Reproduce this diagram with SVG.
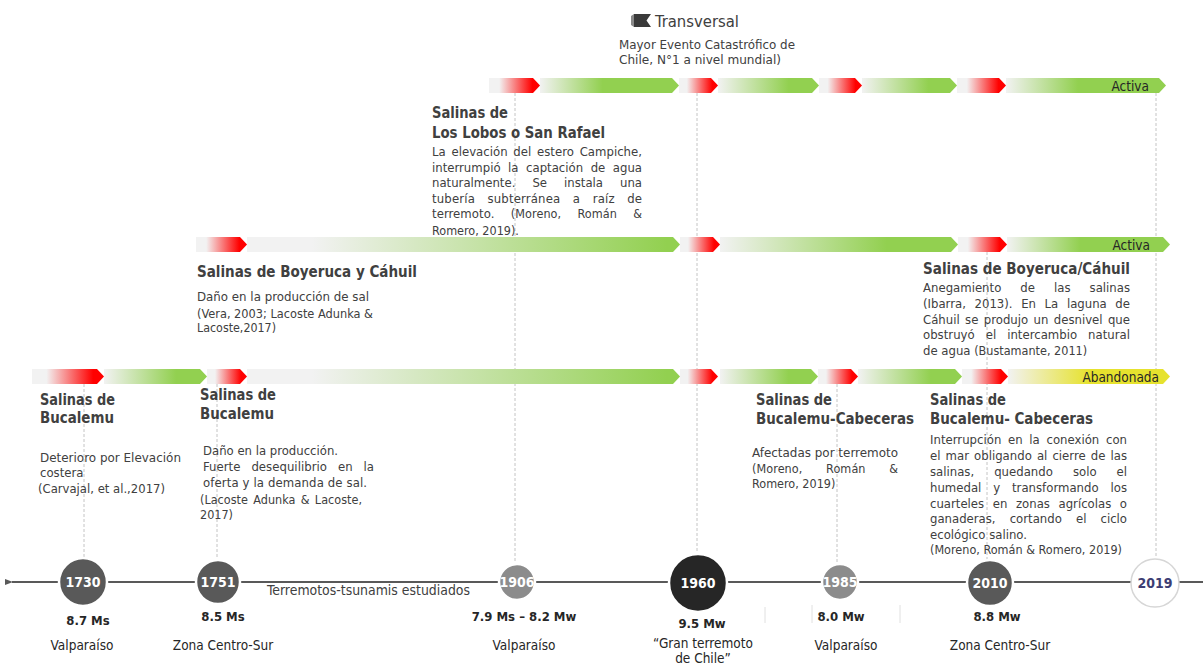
<svg xmlns="http://www.w3.org/2000/svg" width="1203" height="664" viewBox="0 0 1203 664">
<style>
text{font-family:"DejaVu Sans Condensed","DejaVu Sans",sans-serif;fill:#404040}
.h{font-weight:bold;font-size:15px}
.p{font-size:13px}
.s{font-size:12.5px}
.yr{font-weight:bold;font-size:14px;fill:#fff;text-anchor:middle}
.mag{font-weight:bold;font-size:13px;text-anchor:middle;fill:#262626}
.loc{font-size:13.5px;text-anchor:middle;fill:#262626}
.st{font-size:13.5px;fill:#262626;text-anchor:end}
.dash{stroke:#c4c4c4;stroke-dasharray:3 2;stroke-width:1;fill:none}
.tick{stroke:#e0e0e0;stroke-width:1}
.r{fill:url(#gRed)}
.gs{fill:url(#gGreenS)}
.gm{fill:url(#gGreenM)}
.gl{fill:url(#gGreenL)}
.y{fill:url(#gYellow)}
.c{stroke:#fff;stroke-width:2.5}
</style>
<defs>
<linearGradient id="gRed"><stop offset="0" stop-color="#f2f2f2"/><stop offset="0.2" stop-color="#f2f2f2"/><stop offset="0.85" stop-color="#ff0000"/><stop offset="1" stop-color="#ff0000"/></linearGradient>
<linearGradient id="gGreenS"><stop offset="0" stop-color="#f2f2f2"/><stop offset="0.45" stop-color="#92d050"/><stop offset="1" stop-color="#92d050"/></linearGradient>
<linearGradient id="gGreenM"><stop offset="0" stop-color="#f2f2f2"/><stop offset="0.7" stop-color="#92d050"/><stop offset="1" stop-color="#92d050"/></linearGradient>
<linearGradient id="gGreenL"><stop offset="0" stop-color="#f2f2f2"/><stop offset="0.15" stop-color="#f2f2f2"/><stop offset="0.97" stop-color="#92d050"/><stop offset="1" stop-color="#92d050"/></linearGradient>
<linearGradient id="gYellow"><stop offset="0" stop-color="#f2f2f2"/><stop offset="0.5" stop-color="#e6e22e"/><stop offset="1" stop-color="#e6e22e"/></linearGradient>
<marker id="arr" markerWidth="8" markerHeight="8" refX="1" refY="4" orient="auto" markerUnits="userSpaceOnUse"><path d="M8,1 L0,4 L8,7 Z" fill="#595959"/></marker>
</defs>

<g id="connectors">
<line class="dash" x1="84" y1="384" x2="84" y2="558"/>
<line class="dash" x1="217" y1="384" x2="217" y2="560"/>
<line class="dash" x1="515" y1="93" x2="515" y2="564"/>
<line class="dash" x1="697" y1="93" x2="697" y2="554"/>
<line class="dash" x1="837" y1="384" x2="837" y2="564"/>
<line class="dash" x1="987" y1="252" x2="987" y2="560"/>
<line class="dash" x1="1156" y1="93" x2="1156" y2="558"/>
<line x1="1203" y1="582" x2="12" y2="582" stroke="#595959" stroke-width="2" marker-end="url(#arr)"/>
<line class="tick" x1="765" y1="607" x2="765" y2="623"/>
<line class="tick" x1="812" y1="605" x2="812" y2="623"/>
<line class="tick" x1="900" y1="605" x2="900" y2="623"/>
</g>

<g id="transversal">
<polygon points="634,14 651,14 646.5,20.5 651,27 634,27" fill="#3a3a3a"/>
<polygon points="631,16 634,14 634,27 631,25" fill="#8a8a8a"/>
<text x="655" y="27" style="font-size:16.5px" fill="#333">Transversal</text>
<text class="p" x="619" y="49" textLength="176" lengthAdjust="spacingAndGlyphs">Mayor Evento Catastrófico de</text>
<text class="p" x="619" y="64" textLength="162" lengthAdjust="spacingAndGlyphs">Chile, N°1 a nivel mundial)</text>
</g>

<g id="lobos">
<text class="h" x="432" y="118" textLength="76" lengthAdjust="spacingAndGlyphs">Salinas de</text>
<text class="h" x="432" y="138" textLength="173" lengthAdjust="spacingAndGlyphs">Los Lobos o San Rafael</text>
<text class="p" x="432" y="156" word-spacing="2" textLength="210" lengthAdjust="spacing">La elevación del estero Campiche,</text>
<text class="p" x="432" y="172" word-spacing="3.8" textLength="210" lengthAdjust="spacing">interrumpió la captación de agua</text>
<text class="p" x="432" y="187" word-spacing="13.3" textLength="210" lengthAdjust="spacing">naturalmente. Se instala una</text>
<text class="p" x="432" y="203" word-spacing="8.6" textLength="210" lengthAdjust="spacing">tubería subterránea a raíz de</text>
<text class="p" x="432" y="218" word-spacing="12.7" textLength="210" lengthAdjust="spacing">terremoto. <tspan class="s">(Moreno, Román &amp;</tspan></text>
<text class="s" x="432" y="235">Romero, 2019).</text>
</g>

<g id="boyeruca1751">
<text class="h" x="197" y="277" textLength="220" lengthAdjust="spacingAndGlyphs">Salinas de Boyeruca y Cáhuil</text>
<text class="p" x="197" y="301" textLength="172" lengthAdjust="spacingAndGlyphs">Daño en la producción de sal</text>
<text class="s" x="197" y="318" textLength="176" lengthAdjust="spacingAndGlyphs">(Vera, 2003; Lacoste Adunka &amp;</text>
<text class="s" x="197" y="332" textLength="79" lengthAdjust="spacingAndGlyphs">Lacoste,2017)</text>
</g>

<g id="boyeruca2010">
<text class="h" x="923" y="274" textLength="207" lengthAdjust="spacingAndGlyphs">Salinas de Boyeruca/Cáhuil</text>
<text class="p" x="923" y="292" word-spacing="15.3" textLength="207" lengthAdjust="spacing">Anegamiento de las salinas</text>
<text class="p" x="923" y="308" word-spacing="4.9" textLength="207" lengthAdjust="spacing">(Ibarra, 2013). En La laguna de</text>
<text class="p" x="923" y="324" word-spacing="1.6" textLength="207" lengthAdjust="spacing">Cáhuil se produjo un desnivel que</text>
<text class="p" x="923" y="339" word-spacing="7.3" textLength="207" lengthAdjust="spacing">obstruyó el intercambio natural</text>
<text class="p" x="923" y="355">de agua <tspan class="s">(Bustamante, 2011)</tspan></text>
</g>

<g id="bucalemu1730">
<text class="h" x="40" y="405" textLength="75" lengthAdjust="spacingAndGlyphs">Salinas de</text>
<text class="h" x="40" y="423" textLength="74" lengthAdjust="spacingAndGlyphs">Bucalemu</text>
<text class="p" x="40" y="462" textLength="141" lengthAdjust="spacingAndGlyphs">Deterioro por Elevación</text>
<text class="p" x="40" y="477">costera</text>
<text class="s" x="38" y="493" textLength="127" lengthAdjust="spacingAndGlyphs">(Carvajal, et al.,2017)</text>
</g>

<g id="bucalemu1751">
<text class="h" x="200" y="400" textLength="76" lengthAdjust="spacingAndGlyphs">Salinas de</text>
<text class="h" x="200" y="419" textLength="74" lengthAdjust="spacingAndGlyphs">Bucalemu</text>
<text class="p" x="203" y="455" textLength="135" lengthAdjust="spacingAndGlyphs">Daño en la producción.</text>
<text class="p" x="203" y="471" word-spacing="7.2" textLength="171" lengthAdjust="spacing">Fuerte desequilibrio en la</text>
<text class="p" x="203" y="487" textLength="164" lengthAdjust="spacing">oferta y la demanda de sal.</text>
<text class="s" x="200" y="504" word-spacing="1.7" textLength="162" lengthAdjust="spacing">(Lacoste Adunka &amp; Lacoste,</text>
<text class="s" x="200" y="519">2017)</text>
</g>

<g id="cabeceras1985">
<text class="h" x="756" y="405" textLength="76" lengthAdjust="spacingAndGlyphs">Salinas de</text>
<text class="h" x="756" y="424" textLength="158" lengthAdjust="spacingAndGlyphs">Bucalemu-Cabeceras</text>
<text class="p" x="752" y="457" textLength="146" lengthAdjust="spacingAndGlyphs">Afectadas por terremoto</text>
<text class="s" x="752" y="473" word-spacing="20" textLength="146" lengthAdjust="spacing">(Moreno, Román &amp;</text>
<text class="s" x="752" y="488">Romero, 2019)</text>
</g>

<g id="cabeceras2010">
<text class="h" x="930" y="405" textLength="76" lengthAdjust="spacingAndGlyphs">Salinas de</text>
<text class="h" x="930" y="424" textLength="163" lengthAdjust="spacingAndGlyphs">Bucalemu- Cabeceras</text>
<text class="p" x="930" y="444" word-spacing="2.9" textLength="197" lengthAdjust="spacing">Interrupción en la conexión con</text>
<text class="p" x="930" y="460" word-spacing="1.3" textLength="197" lengthAdjust="spacing">el mar obligando al cierre de las</text>
<text class="p" x="930" y="476" word-spacing="16.3" textLength="197" lengthAdjust="spacing">salinas, quedando solo el</text>
<text class="p" x="930" y="492" word-spacing="8.1" textLength="197" lengthAdjust="spacing">humedal y transformando los</text>
<text class="p" x="930" y="508" word-spacing="4.9" textLength="197" lengthAdjust="spacing">cuarteles en zonas agrícolas o</text>
<text class="p" x="930" y="523" word-spacing="10.4" textLength="197" lengthAdjust="spacing">ganaderas, cortando el ciclo</text>
<text class="p" x="930" y="539">ecológico salino.</text>
<text class="s" x="930" y="554" textLength="192" lengthAdjust="spacing">(Moreno, Román &amp; Romero, 2019)</text>
</g>

<g id="row1">
<path class="r" d="M489 78H533L540 85.5L533 93H489Z"/>
<path class="gs" d="M540 78H672L679 85.5L672 93H540Z"/>
<path class="r" d="M679 78H711L718 85.5L711 93H679Z"/>
<path class="gm" d="M718 78H812L819 85.5L812 93H718Z"/>
<path class="r" d="M819 78H855L862 85.5L855 93H819Z"/>
<path class="gm" d="M862 78H950L957 85.5L950 93H862Z"/>
<path class="r" d="M957 78H999L1006 85.5L999 93H957Z"/>
<path class="gs" d="M1006 78H1159L1166 85.5L1159 93H1006Z"/>
<text class="st" x="1149" y="90.5">Activa</text>
</g>

<g id="row2">
<path class="r" d="M196 237H240L247 244.5L240 252H196Z"/>
<path class="gl" d="M247 237H673L680 244.5L673 252H247Z"/>
<path class="r" d="M680 237H713L720 244.5L713 252H680Z"/>
<path class="gm" d="M720 237H951L958 244.5L951 252H720Z"/>
<path class="r" d="M958 237H1000L1007 244.5L1000 252H958Z"/>
<path class="gs" d="M1007 237H1163L1170 244.5L1163 252H1007Z"/>
<text class="st" x="1150" y="249.5">Activa</text>
</g>

<g id="row3">
<path class="r" d="M32 369H97L104 376.5L97 384H32Z"/>
<path class="gm" d="M104 369H200L207 376.5L200 384H104Z"/>
<path class="r" d="M207 369H240L247 376.5L240 384H207Z"/>
<path class="gl" d="M247 369H673L680 376.5L673 384H247Z"/>
<path class="r" d="M680 369H711L718 376.5L711 384H680Z"/>
<path class="gm" d="M720 369H811L818 376.5L811 384H720Z"/>
<path class="r" d="M818 369H851L858 376.5L851 384H818Z"/>
<path class="gm" d="M858 369H955L962 376.5L955 384H858Z"/>
<path class="r" d="M962 369H1001L1008 376.5L1001 384H962Z"/>
<path class="y" d="M1008 369H1163L1170 376.5L1163 384H1008Z"/>
<text class="st" x="1159" y="381.5">Abandonada</text>
</g>

<text x="267" y="595" style="font-size:13.5px" fill="#262626" textLength="203" lengthAdjust="spacingAndGlyphs">Terremotos-tsunamis estudiados</text>

<g id="e1730">
<circle class="c" cx="83" cy="582" r="24" fill="#595959"/>
<text class="yr" x="83" y="587">1730</text>
<text class="mag" x="88" y="625">8.7 Ms</text>
<text class="loc" x="82" y="650">Valparaíso</text>
</g>
<g id="e1751">
<circle class="c" cx="218" cy="582" r="22" fill="#595959"/>
<text class="yr" x="218" y="587">1751</text>
<text class="mag" x="223" y="621">8.5 Ms</text>
<text class="loc" x="223" y="650">Zona Centro-Sur</text>
</g>
<g id="e1906">
<circle class="c" cx="517" cy="582" r="18" fill="#8c8c8c"/>
<text class="yr" x="517" y="587">1906</text>
<text class="mag" x="524" y="621">7.9 Ms – 8.2 Mw</text>
<text class="loc" x="524" y="650">Valparaíso</text>
</g>
<g id="e1960">
<circle class="c" cx="698" cy="583" r="29" fill="#262626"/>
<text class="yr" x="698" y="588">1960</text>
<text class="mag" x="702" y="628">9.5 Mw</text>
<text class="loc" x="703" y="648">“Gran terremoto</text>
<text class="loc" x="703" y="663">de Chile”</text>
</g>
<g id="e1985">
<circle class="c" cx="840" cy="582" r="18" fill="#8c8c8c"/>
<text class="yr" x="840" y="587">1985</text>
<text class="mag" x="841" y="621">8.0 Mw</text>
<text class="loc" x="846" y="650">Valparaíso</text>
</g>
<g id="e2010">
<circle class="c" cx="990" cy="583" r="23" fill="#595959"/>
<text class="yr" x="990" y="588">2010</text>
<text class="mag" x="997" y="621">8.8 Mw</text>
<text class="loc" x="1000" y="650">Zona Centro-Sur</text>
</g>
<g id="e2019">
<circle cx="1155" cy="583" r="24" fill="#fff" stroke="#d6d6d6" stroke-width="1.5"/>
<text class="yr" x="1155" y="588" style="fill:#3d3d73">2019</text>
</g>
</svg>
